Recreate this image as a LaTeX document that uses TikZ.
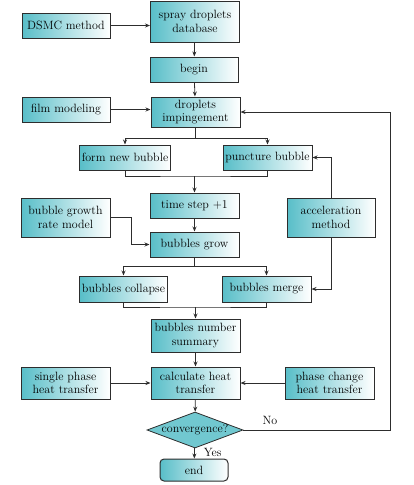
\documentclass[tikz,border=0pt]{standalone}
\usepackage{xcolor}
\usepackage{tikz}
\usetikzlibrary{arrows.meta,positioning,shapes.geometric,calc}
\definecolor{boxteal}{RGB}{88,190,200}
\definecolor{edgegray}{RGB}{45,45,45}

\begin{document}
\begin{tikzpicture}[x=1pt,y=1pt,font=\fontsize{12}{13.5}\selectfont,
  blk/.style={draw=edgegray,line width=1pt,align=center,minimum width=89pt,
              minimum height=25pt,left color=boxteal,right color=white,inner sep=2pt},
  dec/.style={diamond,draw=edgegray,line width=0.8pt,fill=boxteal!85,aspect=2.67,
              minimum width=96pt,minimum height=36pt,inner sep=0pt},
  term/.style={blk,rounded corners=4pt,minimum width=68pt,minimum height=22pt},
  lbl/.style={inner sep=1pt},
  arr/.style={-{Stealth[length=5pt,width=4pt]},line width=0.8pt,draw=edgegray}]
\useasboundingbox (0,0) rectangle (414,-485);
% main column
\node[blk,minimum height=41pt] (spray) at (195,-21.5) {spray droplets\\database};
\node[blk,minimum width=88pt] (dsmc) at (66,-25.5) {DSMC method};
\node[blk,minimum width=88pt] (begin) at (194,-69.5) {begin};
\node[blk,minimum height=30pt] (imp) at (195.5,-112) {droplets\\impingement};
\node[blk,minimum width=88pt] (film) at (66,-109.5) {film modeling};
\node[blk,minimum width=90pt] (fnb) at (125,-157.5) {form new bubble};
\node[blk] (pb) at (267.5,-157.5) {puncture bubble};
\node[blk] (ts) at (194.5,-205.5) {time step +1};
\node[blk,minimum height=39pt] (bgr) at (65.5,-217.5) {bubble growth\\rate model};
\node[blk,minimum width=88pt,minimum height=39pt] (acc) at (331,-217.5) {acceleration\\method};
\node[blk] (grow) at (194.5,-244.5) {bubbles grow};
\node[blk,minimum width=85pt,minimum height=26pt] (coll) at (123.5,-289) {bubbles collapse};
\node[blk,minimum height=26pt] (merge) at (266.5,-289) {bubbles merge};
\node[blk,minimum height=33pt] (sum) at (195.5,-335.5) {bubbles number\\summary};
\node[blk,minimum height=32pt] (calc) at (195.5,-383) {calculate heat\\transfer};
\node[blk,minimum height=32pt] (single) at (65.5,-383) {single phase\\heat transfer};
\node[blk,minimum height=32pt] (pc) at (329.5,-383) {phase change\\heat transfer};
\node[dec] (conv) at (195,-430) {convergence?};
\node[term] (end) at (194,-470) {end};
% junctions
\coordinate (s1) at (195.5,-138);
\coordinate (j1) at (194.5,-176);
\coordinate (s2) at (194.5,-266);
\coordinate (j2) at (195.5,-307);
\coordinate (back) at (390,-430);
% connectors
\draw[arr] (dsmc) -- (dsmc -| spray.west);
\draw[arr] (spray) -- (begin);
\draw[arr] (begin) -- (imp);
\draw[arr] (film) -- (film -| imp.west);
\draw[line width=0.8pt,draw=edgegray] (imp.south) -- (s1);
\draw[arr] (s1) -| (fnb.north);
\draw[arr] (s1) -| (pb.north);
\draw[line width=0.8pt,draw=edgegray] (fnb.south) |- (j1) -| (pb.south);
\draw[arr] (j1) -- (ts.north);
\draw[arr] (ts) -- (grow);
\draw[arr] (bgr.east) -- ++(21,0) |- (grow.west);
\draw[arr] (acc.north) |- (pb.east);
\draw[arr] (acc.south) |- (merge.east);
\draw[line width=0.8pt,draw=edgegray] (grow.south) -- (s2);
\draw[arr] (s2) -| (coll.north);
\draw[arr] (s2) -| (merge.north);
\draw[line width=0.8pt,draw=edgegray] (coll.south) |- (j2) -| (merge.south);
\draw[arr] (j2) -- (sum.north);
\draw[arr] (sum) -- (calc);
\draw[arr] (single) -- (calc);
\draw[arr] (pc) -- (calc);
\draw[arr] (calc) -- (conv);
\draw[arr] (conv) -- (end) node[lbl,pos=0.4,right=8pt] {Yes};
\draw[arr] (conv.east) -- (back) |- (imp.east);
\node[lbl] (no) at (270,-420) {No};
\end{tikzpicture}
\end{document}
